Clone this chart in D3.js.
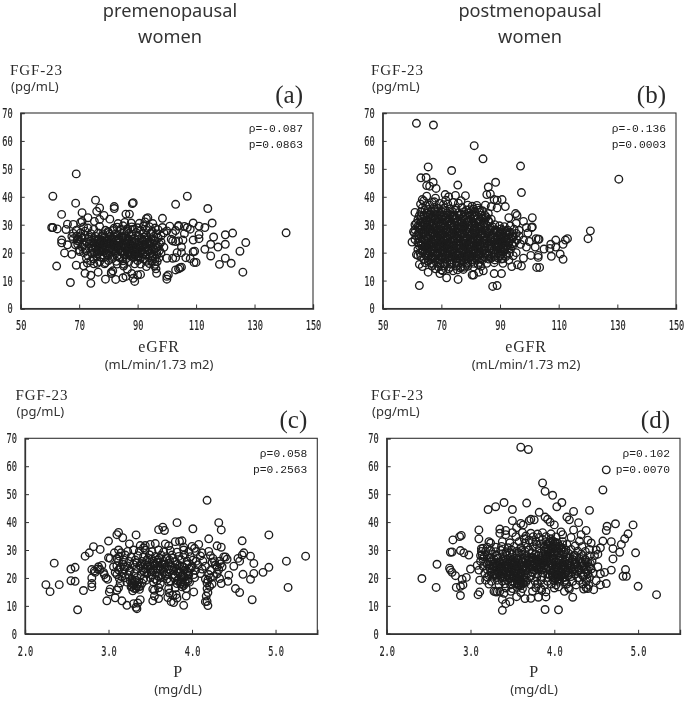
<!DOCTYPE html>
<html lang="en">
<head>
<meta charset="utf-8">
<title>FGF-23 scatter plots</title>
<script src="https://cdn.jsdelivr.net/npm/d3@7"></script>
<style>
html, body { margin: 0; padding: 0; background: white; }
svg { display: block; filter: blur(0.35px); }
.tick text { font-family: "DejaVu Sans Mono", monospace; font-size: 14px; fill: #222; stroke: #222; stroke-width: 0.2px; }
.tick line, .domain { stroke: #333; }
.dot { fill: none; stroke: #1c1c1c; stroke-width: 1.35; }
.head { font-family: "Noto Sans", sans-serif; font-size: 18.2px; fill: #333; text-anchor: middle; }
.serif { font-family: "Liberation Serif", serif; fill: #2a2a2a; }
.unit { font-family: "Noto Sans", sans-serif; font-size: 13px; fill: #333; }
.stat { font-family: "Liberation Mono", monospace; font-size: 11.3px; fill: #222; text-anchor: end; }
</style>
</head>
<body>
<div id="chart"></div>
<script>
// values, [x, FGF-23]
var pointsA = [
[69,48.2],[61,40.2],[68.8,37.7],[75.6,38.8],[107,40.2],[103,37.3],[88.5,37.9],[88.2,37.6],[82,36.5],[82,35.8],[114,35.8],[77,36],[76,34.8],[64,33.7],[71,34.3],[78.5,33.3],[86,33.8],[87.2,33.8],[93.5,32.5],[93,32.2],[98.5,32.3],[80.5,32],[73,32.5],[77,31.9],[75.2,31.2],[115.5,30.6],[109,30.6],[66,30.2],[68,30.1],[70.5,30.8],[71,31.2],[60.6,29],[61,29],[62.5,28.5],[65.5,28.3],[111,29.5],[113,29],[101,29.5],[104,29.7],[104,29.4],[106,29.4],[107,29],[108,28.4],[111,26.5],[111,25],[116,25.6],[120,26.4],[122.5,27],[127,23.6],[125,20.5],[120,23],[115,23],[117.5,22],[113,21.2],[115,18.8],[118,15.8],[120,18],[122,16.2],[126,13],[140.8,27.1],[110,16.5],[109.5,20.5],[109,20.3],[109,24.5],[109.3,16.5],[106.5,18.2],[108,17.9],[64,24.5],[64,23.5],[65,19.9],[66,22.8],[67.5,19.4],[69,15.5],[62.3,15.2],[71.5,15.3],[72,12.6],[74,11.9],[67,9.3],[74,9],[76.5,13],[79,10.5],[82.5,10.4],[85,11],[86,11.5],[88,12.5],[89,9.7],[90,12],[91,12.2],[88.5,10.8],[81,12.5],[81,13],[81.5,13.5],[86.5,14],[96.5,12.6],[100,10.5],[100,11.5],[100.5,12],[103,13.8],[104,14.2],[104.5,14.6],[105,14.8],[100,18],[102,18],[103,18.2],[103.5,20],[105,20],[102,24.2],[103,24],[104,24.2],[105.5,24.5],[106,26.8],[105,22],
[71.5,29.2],[73,28.8],[77,29.4],[83,29.1],[85,29.6],[88,29.2],[90,28.9],[92,29.5],[94,29.3],[96,28.8],[98.5,29],
[69,28],[72,27.7],[75,28.3],[79,28],[81.5,27.9],[84,28.2],[86.5,27.8],[88.5,28.4],[91,27.9],[93,28.1],[95,27.6],[97,28.2],[100,27.8],[103,27.9],
[68,26.9],[70.5,27.1],[74,26.8],[76.5,27],[80,27.2],[82.5,26.7],[85.2,27],[87,26.9],[89.5,27.2],[92,26.8],[94.5,27],[96.5,26.7],[99,27.1],[102,26.9],
[67.5,25.8],[69.2,26],[72,26.2],[75.5,25.9],[78,26.1],[80.7,25.8],[83,26.2],[84.5,26],[86,25.7],[88,26.1],[90.2,25.9],[93,26.2],[95.5,25.8],[98,26],
[68,25],[69.5,24.9],[71,25.2],[73.2,24.8],[75,25.1],[76.8,25],[78.8,25.3],[80,24.9],[81.3,25],[83.5,24.7],[85,25.2],[87,24.9],[89,25.1],[91.5,24.8],[93.2,25.1],[95,24.9],[97,25.2],[101.5,24.8],
[70,24],[72.5,23.8],[74,24.2],[76,24],[77.5,23.7],[79.5,24.1],[81,23.9],[82.5,24.2],[84,23.8],[86.3,24],[88,24.2],[90,23.7],[92,24.1],[94,23.9],[96,24.2],[98,23.8],
[69.5,23],[71.5,22.8],[73.5,23.2],[75.2,22.9],[77,23.1],[78.5,22.8],[80,23.2],[82,23],[83.5,22.7],[85.5,23.1],[87.5,22.9],[89,23.2],[90.5,22.8],[92.5,23],[94.3,23.2],[96.3,22.8],[97.5,23.1],
[71,22],[74,21.8],[75.8,22.2],[77.8,21.9],[79,22.1],[80.8,21.8],[83,22.1],[84.5,21.9],[86,22.2],[88.3,21.8],[89.6,22],[91,21.7],[93,22.1],[95,21.9],[97,22.2],[99,21.9],
[70,21],[72.3,20.8],[74.5,21.2],[76.5,20.9],[78,21.1],[80,20.8],[81.8,21.2],[83.5,21],[85,20.7],[87,21.1],[88.5,20.8],[90,21.2],[91.5,20.9],[93.5,21],[95.5,21.2],[97.5,20.8],
[71.5,20],[75,19.8],[77,20.2],[79,19.9],[81,20.1],[82.5,19.8],[84.5,20.2],[86.5,20],[88,19.7],[89.5,20.1],[91,19.9],[92.5,20.2],[94.5,19.8],[96.5,20.1],[98,19.9],
[73,19],[76,18.8],[78,19.2],[80,19],[83,18.8],[85.5,19.2],[87.5,18.9],[89,19.1],[90.5,18.8],[93,19.2],[95,18.9],[96.5,19.1],
[72.5,18],[75,17.8],[78.5,18.2],[81.3,17.9],[84,18.1],[86,17.8],[88.5,18.2],[91,18],[92,17.7],[94,18.1],[96,17.9],[97.3,18.2],
[74,17],[77,16.8],[80,17.2],[82.7,16.9],[85,17.1],[87,16.8],[90,17.2],[93,16.9],[95,17.1],[96.7,16.8],
[75,16],[76.2,16.2],[78.7,16],[79,16.4],[83,15.9],[85.3,15.8],[89,16],[91,15.9],[94,16.1],[96,15.8],[85.2,15.2],[93,15],[95.8,15.3],[96.3,14.2],
// second pass over the dense core
[76.3,24.6],[77.9,25.7],[79.2,23.4],[80.4,26.6],[81.7,22.6],[82.9,24.7],[84.2,20.6],[85.8,23.6],[86.9,19.4],[87.7,22.4],[88.9,20.3],[89.3,24.4],[90.2,18.4],[91.3,22.6],[92.2,25.6],[93.7,20.6],[94.7,23.5],[95.3,18.5],[96.2,21.6],[75.4,21.6],[76.9,22.5],[78.3,20.4],[79.6,19.3],[80.3,21.4],[81.4,18.6],[82.2,20.7],[83.2,23.5],[84.8,25.6],[85.7,21.5],[86.7,24.6],[87.3,20.5],[88.7,18.5],[89.8,21.3],[90.7,22.4],[91.8,19.5],[74.6,23.5],[73.3,25.6],[72.2,21.5],[77.2,18.4],[78.1,26.7],[79.9,27.6],[81.1,24.5],[83.8,18.4],[85.4,27.6],[86.6,28.6],[88.2,26.5],[87.9,19.6],[89.1,23.7],[90.9,20.4],[92.8,24.5],[94,21.5],[95.7,24.4],[81.9,28.7],[83.3,30.4],[85.6,30.8],[87.8,30.6],[90.6,30.5],[92.5,31],[95.2,30.4],[76.2,19.5],[74.3,19.7],[70.7,25.7],[69.3,24.3],[68.7,22.8],[70.2,20.4],[72.8,16.3],
// third pass
[88.4,21.3],[87.6,20.2],[89.7,20.6],[90.3,21.7],[86.2,20.9],[85.1,20.3],[88.1,22.7],[89.4,19.2],[91.2,20.5],[84.3,22.6],[83.6,21.5],[82.4,22.3],[81.2,21.6],[80.1,23.6],[79.1,24.7],[78.2,23.6],[77.4,24.5],[76.4,23.4],[75.3,24.5],[85.9,24.4],[87.1,23.5],[91.7,24.3],[93.3,23.6],[94.4,22.5],[92.4,21.4],[83.4,25.1],[82.1,25.6],[79.4,21.7],[77.6,21.4],[76.1,20.5]
];
var pointsB = [
[61.5,66.3],[67.3,65.7],[81.2,58.3],[84.2,53.6],[65.5,50.7],[73.5,49.4],[97,51],[130.5,46.3],[63,46.8],[64.8,46.9],[67.2,45.2],[65,44],[66,43.8],[68.2,43],[75.6,44.2],[88.5,45.2],[86,43.5],[97.3,41.5],[85.5,40.8],[86.7,41],[71.3,40.8],[72.5,40],[74.8,40.5],[78.2,40.4],[63.5,39],[64,38.5],[65,40.2],[68,39.5],[71.5,38.8],[88,39],[89,38.8],[90.7,39],[91.8,36.5],[66,37],[75.8,37.7],[79,37],[85,37],[87,36.5],[89,36],[84,35],[86,34],[61,34.4],[87,32],[93,32.5],[95.3,34],[95.8,33.3],[101,32.5],[98,31.2],[95.5,30.5],[100.8,29],[101,29.2],[99,29],[120.8,27.8],[120,25],[113,25],[112.3,24.5],[111.5,23],[109,24.5],[109,22],[107.3,23],[107,21.5],[107.5,18.7],[110.5,19.5],[111.5,17.6],[102.3,25],[103,24.8],[103.3,24.8],[102,22],[105,21.3],[103,19],[103,18.3],[102.5,14.7],[103.5,14.7],[98,18],[97.3,15.2],[100.5,19],[62.5,8.2],[87.5,7.9],[89,8.2],[75.7,10.4],[71.8,11],[80.5,12],[81,12],[82.8,13],[84.3,13.5],[88,12.5],[90.5,12.5],[65.5,13],[62.5,15.8],[60,23.8],[60.5,27.5],[61,30],[61.5,19.3],[62,19],[94,15],[96,15.7],[69.5,12.5],[70.5,13.5],[74,13.5],[76.5,14.5],[78,14.8],[99,22],[100,24],[98,24.5],[97,23],[99.5,27],[96.5,28],[94.5,25.5],
[63.5,36],[65.5,35.5],[67.5,36.2],[69,35.8],[71,36],[73,35.7],[75,35.9],[77,36.1],[79.5,35.4],[81,35.6],[83,35.2],
[63,34.5],[65,34.2],[66.5,34.8],[68.3,34.4],[70,34.6],[72,34.2],[73.8,34.7],[75.8,34.3],[77.7,34.6],[79.5,34.2],[81.2,34.7],[83,34.4],[84.8,33.5],
[62.5,33.2],[64,33],[65.7,33.4],[67.3,33],[69,33.3],[70.5,32.9],[72.3,33.4],[74,33.1],[76,33.3],[78,32.9],[79.7,33.4],[81.7,33],[83.5,33.3],[85.3,32.8],
[62,31.8],[63.5,32],[65,31.7],[66.5,32.2],[68,31.9],[69.7,32.1],[71.2,31.7],[73,32.2],[74.7,31.8],[76.5,32],[78.3,31.7],[80,32.1],[82,31.8],[84,32.2],[86,31.5],
[61.5,30.5],[63,30.8],[64.5,30.6],[66,31],[67.5,30.6],[69,30.9],[70.5,30.5],[72,30.9],[73.5,30.6],[75.3,31],[77,30.6],[78.7,30.9],[80.5,30.5],[82.5,30.9],[84.5,30.6],[86.3,30.9],[88.2,30],
[62,29.5],[63.5,29.3],[65,29.7],[66.7,29.4],[68.2,29.7],[69.8,29.3],[71.3,29.6],[73,29.4],[74.5,29.7],[76.3,29.3],[78,29.6],[79.8,29.3],[81.5,29.7],[83.5,29.4],[85.5,29.7],[87.5,29.2],[89.8,29.6],[91.5,29.3],[93.5,29.6],
[61,28.2],[62.8,28.4],[64.3,28.1],[66,28.5],[67.5,28.2],[69,28.5],[70.7,28.1],[72.3,28.5],[74,28.2],[75.8,28.4],[77.4,28.1],[79.2,28.5],[81,28.2],[82.8,28.4],[84.7,28.1],[86.5,28.4],[88.5,28.1],[90.3,28.5],[92.5,28.1],[94.8,28.4],
[60.8,27],[62.3,27.3],[64,27],[65.5,27.4],[67,27.1],[68.7,27.3],[70.2,27],[72,27.4],[73.7,27.1],[75.3,27.3],[77,27],[78.7,27.4],[80.5,27.1],[82.3,27.3],[84,27],[86,27.3],[88,27],[90,27.4],[91.8,27.1],[93.5,27.3],[95.5,26.9],
[61.5,26],[63.2,25.8],[64.8,26.2],[66.3,25.9],[68,26.2],[69.5,25.8],[71.3,26.1],[72.8,25.9],[74.5,26.2],[76.2,25.8],[78,26.1],[79.7,25.8],[81.5,26.2],[83.3,25.9],[85,26.1],[87,25.8],[89,26.1],[90.8,25.9],[92.7,26.2],[94.5,25.8],[96.5,26],
[61,24.7],[62.5,25],[64,24.7],[65.6,25],[67.3,24.7],[69,25],[70.6,24.6],[72.2,25],[73.9,24.7],[75.6,24.9],[77.3,24.6],[79,25],[80.8,24.7],[82.5,24.9],[84.5,24.6],[86.5,24.9],[88.3,24.7],[90,25],[91.8,24.6],[93.8,24.9],[95.8,24.6],
[62,23.5],[63.6,23.8],[65.2,23.5],[66.8,23.8],[68.4,23.5],[70,23.8],[71.7,23.4],[73.3,23.8],[75,23.5],[76.7,23.7],[78.4,23.4],[80.2,23.8],[82,23.5],[83.7,23.7],[85.5,23.4],[87.5,23.7],[89.2,23.5],[91,23.8],[93,23.4],[95,23.7],
[62.5,22.4],[64.2,22.2],[65.8,22.6],[67.5,22.2],[69.2,22.5],[70.8,22.2],[72.5,22.6],[74.2,22.3],[76,22.5],[77.7,22.2],[79.4,22.6],[81.2,22.3],[83,22.5],[84.8,22.2],[86.8,22.5],[88.6,22.2],[90.5,22.6],[92.3,22.3],[94.3,22.5],
[62,21.2],[63.8,21],[65.4,21.4],[67,21],[68.7,21.3],[70.4,21],[72,21.4],[73.8,21.1],[75.4,21.3],[77.2,21],[79,21.4],[80.8,21.1],[82.6,21.3],[84.4,21],[86.2,21.3],[88,21],[89.8,21.4],[91.6,21],[93.6,21.3],
[62.7,20],[64.5,19.8],[66.2,20.2],[67.9,19.8],[69.6,20.1],[71.3,19.8],[73,20.2],[74.8,19.9],[76.5,20.1],[78.3,19.8],[80,20.2],[81.8,19.9],[83.7,20.1],[85.5,19.8],[87.5,20],[89.3,19.8],[91.2,20.2],[93.2,19.8],[95.5,20],
[63,18.7],[64.8,18.9],[66.5,18.6],[68.2,18.9],[70,18.6],[71.7,19],[73.5,18.7],[75.2,18.9],[77,18.6],[78.8,19],[80.5,18.7],[82.3,18.9],[84.2,18.6],[86,18.9],[88,18.6],[90,18.9],[92,18.6],[94.5,18.9],
[64,17.6],[66,17.4],[67.8,17.7],[69.5,17.4],[71.2,17.7],[73,17.4],[74.8,17.7],[76.5,17.4],[78.3,17.7],[80.2,17.4],[82,17.7],[84,17.4],[86.2,17.7],[88.2,17.4],[90.5,17.7],[93,17.3],
[64.5,16.4],[66.5,16.2],[68.3,16.5],[70,16.2],[71.8,16.5],[73.6,16.2],[75.3,16.5],[77.2,16.2],[79,16.5],[81,16.2],[83,16.5],[85.5,16.2],[88,16.4],[91,16.2],
[63.5,15],[66.8,15.2],[69,14.9],[71,15.2],[73,14.8],[75,15.2],[76.8,15],[79,15.1],[81,14.9],[83.5,15.1],
[68,14.2],[70,13.8],[72.5,14.2],[75.5,13.8],[77.5,14],
// second pass over the dense core
[64.4,35.3],[66.2,33.7],[67.9,35],[69.6,34],[71.4,35.1],[72.9,33.6],[74.6,35.2],[76.7,33.8],[78.6,35.3],[80.4,33.7],[82.3,35.9],
[63.1,32.6],[64.9,31.2],[66.9,32.6],[68.6,31],[70.1,32.5],[71.9,31],[73.6,32.7],[75.5,31.2],[77.3,32.6],[79.1,31.3],[81,32.6],[82.8,31.3],[85,32.2],
[62.6,30],[64.1,29.9],[66.1,30.1],[67.8,28.9],[69.3,30.1],[71.1,28.9],[72.7,30.2],[74.2,29],[76,30.1],[77.7,29],[79.4,30],[81.3,28.9],[83,30.1],[84.9,29],[86.8,28.9],[89,27.7],
[62.4,28.9],[63.9,27.7],[65.2,28.8],[66.6,27.6],[68.3,27.8],[69.9,26.6],[71.7,27.9],[73.3,26.6],[74.9,27.7],[76.6,26.5],[78.3,27.8],[80,26.6],[81.7,27.7],[83.6,26.6],[85.3,27.8],[87.2,26.6],[90.9,26.6],[92.9,25.2],
[62,26.4],[63.7,26.6],[65.3,25.3],[67,26.7],[68.6,25.4],[70.3,26.5],[72,25.3],[73.6,26.6],[75.2,25.4],[77,26.5],[78.7,25.3],[80.4,26.5],[82.1,25.4],[83.9,26.5],[85.7,25.3],[87.8,25.3],[89.6,24.3],[91.4,25.4],[93.2,24.2],
[62.9,24.2],[64.5,24.3],[66.1,23],[67.8,24.2],[69.4,23],[71.1,24.2],[72.7,23],[74.4,24.2],[76,23],[77.8,24.2],[79.5,23],[81.3,24.2],[83.1,23],[84.9,24.1],[86.8,23],[88.7,23.1],[90.4,22.9],[92.1,23.9],[94.1,23.1],
[63.1,22.8],[64.9,21.7],[66.4,21.9],[68.1,21.8],[69.9,22],[71.4,21.8],[73.2,21.9],[74.9,21.7],[76.7,21.8],[78.4,21],[80.1,22],[81.9,21.8],[83.7,22],[85.4,21.7],[87.2,21.8],[89,22.9],[90.9,21.6],[92.8,21.7],
[63.4,20.6],[65.1,20.7],[66.8,20.6],[68.5,19.4],[70.2,20.7],[72,19.5],[73.7,20.6],[75.4,19.4],[77.1,20.6],[79,19.4],[80.7,20.6],[82.5,19.4],[84.2,20.6],[86.1,19.5],[88.4,19.5],[90.3,19.5],[92.3,19.4],
[65.3,18.1],[67.2,18.1],[69,17.9],[70.7,18.2],[72.4,18.1],[74.2,18.2],[76,18],[77.7,18.2],[79.5,18.1],[81.3,18.2],[83,18],[85,18.2],[87,18],[89.2,18.1],[91,17.9],
[65.5,17],[67.3,15.8],[69.4,15.8],[71.2,15.9],[73.1,15.9],[75,16.9],[76.9,16.9],[78.6,15.8],[80.4,16.8],[82.5,15.8],
[67.6,38.2],[69.4,37.6],[70.7,37.2],[72.2,37.4],[74,38],[76.7,38.6],[64.7,36.8],[66.9,38],[62.9,37.4],[80.5,36.6],[82.1,36.9],
// third pass
[64.2,33.5],[65.3,32.8],[66.1,31.5],[67.1,30.2],[68,33.6],[68.9,32.4],[70,29.8],[70.9,33.5],[71.8,32.5],[72.6,31.3],[73.4,29.9],[74.3,33.4],[75.1,32.6],[75.9,28.9],[76.8,31.4],[77.6,30],[78.5,33.6],[79.3,31.5],[80.2,29.9],[81.4,33.4],[82.2,29.2],[83.2,31.9],
[64.9,28.8],[65.8,27.9],[66.5,26.6],[67.3,25.6],[68.2,24.4],[69,26.9],[69.7,28],[70.4,25.3],[71.3,26.9],[72.1,24.3],[72.9,27.6],[73.7,25.3],[74.5,24],[75.4,26.8],[76.1,25.1],[77.1,28.8],[77.9,24.5],[78.9,26.7],[79.7,24.3],[80.6,25.2],[81.6,26.8],[82.4,24.2],[83.4,27.8],[84.1,25.4],
[64.6,22.9],[65.6,21.9],[66.7,23.2],[67.6,20.8],[68.6,22.9],[69.4,21.7],[70.5,23],[71.6,22.9],[72.4,21.8],[73.4,22.8],[74.5,21.2],[75.7,22.9],[76.3,21.6],[77.4,22.8],[78.1,23],[78.9,21.7],[79.9,22.9],[80.9,22.8],[81.6,20.8],[82.7,21.9],[83.5,22.9],[84.6,23.1],
[65.9,19.2],[67,18.4],[68.7,20.2],[70.4,19.2],[72.3,18.6],[73.9,19.3],[75.9,19.2],[77.6,19.3],[79.3,18.5],[81,19.3],[83.1,19.3],[84.9,19.4],
[88.3,23.3],[89.5,22.2],[90.2,24.4],[91.1,23.2],[92,22.4],[90.1,20.9],[88.9,21.6],[91.4,22],[89.9,26.7],[88.2,27.9],[92,27.6],[93.4,26.8],[90.8,27.9],[86.9,21.7],[87.6,25.2]
];
var pointsC = [
[4.18,47.8],[3.82,39.8],[4.32,39.8],[3.65,38.2],[3.6,37.3],[3.67,37],[4.01,37.6],[4.35,37.2],[3.12,36.3],[3.1,35.5],[3.17,34.4],[3.33,35.4],[3,33.2],[4.2,34],[4.6,33.3],[4.92,35.4],[3.85,33.1],[3.8,33],[2.82,31.2],[2.9,30.2],[2.77,29],[2.72,27.8],[2.35,25.3],[2.6,23.8],[2.55,23.2],[2.25,17.6],[2.3,15.1],[2.41,17.6],[2.55,19],[2.6,18.8],[2.7,15.5],[2.63,8.6],[2.98,11.8],[3.08,12.9],[3.16,11.8],[3.22,10.2],[3.3,10.8],[3.33,9.5],[3.34,9],[3.35,11],[3.38,12.2],[3.53,11.8],[3.6,12.6],[3.75,11.5],[3.78,11.2],[3.82,12.8],[3.9,10.2],[3.93,13.5],[4.02,15],[4.16,11.5],[4.18,11.6],[4.19,10.1],[4.72,12.2],[4.57,14.8],[4.52,16.2],[4.7,19.5],[4.74,21.6],[4.74,25.2],[4.7,27.8],[4.62,29],[4.6,28.2],[4.55,27],[4.57,26],[4.5,24.2],[4.61,21.3],[4.85,22],[4.92,23.8],[5.13,26],[5.15,16.6],[5.36,27.8],[4.44,21],[4.43,18.8],[4.35,18],[4.42,26.7],[4.38,27.5],[4.4,27.5],[4.3,31.5],[4.35,31],[4.05,29.5],[4.08,32],[4.2,29.5],[4.25,27],
[2.8,23],[2.83,22.5],[2.8,20],[2.8,18],[2.8,16.8],[2.88,24],[2.92,24.5],[2.9,23],[2.94,22],[2.97,20],[2.99,19.5],[3,27.2],[3.02,27],[3.02,16],[3.01,15],[3.1,27],[3.07,29],[3.12,30],[2.84,22],[2.87,23.2],[2.95,21.2],[3.06,24],[3.08,22],
[3.25,32.2],[3.38,31.6],[3.42,30.8],[3.5,32],[3.56,32.3],[3.68,32.2],[3.72,31.5],[3.88,33.3],[3.9,31],[4,31.3],[4.03,30.6],[3.44,31.6],
[3.15,29],[3.23,29.5],[3.3,30],[3.37,29.6],[3.44,30],[3.52,29.4],[3.6,30],[3.66,29.3],[3.74,29.8],[3.82,29.2],[3.9,30],[3.96,29.4],[4.12,29],
[3.13,27.8],[3.2,28.2],[3.27,27.6],[3.35,28],[3.42,27.6],[3.49,28.3],[3.56,27.7],[3.63,28.2],[3.69,27.6],[3.76,28.2],[3.84,27.7],[3.91,28.2],[3.98,27.6],[4.1,27.9],[4.22,28],
[3.12,26],[3.18,26.5],[3.25,25.9],[3.32,26.4],[3.4,25.9],[3.46,26.5],[3.53,26],[3.59,26.5],[3.66,25.9],[3.73,26.4],[3.8,25.9],[3.87,26.5],[3.94,26],[4.01,26.4],[4.13,26],[4.27,25.8],[4.33,26],
[3.1,24.4],[3.17,24.9],[3.23,24.3],[3.3,24.8],[3.38,24.2],[3.44,24.8],[3.5,24.3],[3.56,24.9],[3.62,24.2],[3.68,24.8],[3.75,24.3],[3.82,24.8],[3.88,24.2],[3.94,24.8],[4,24.3],[4.07,24.7],[4.16,24.2],[4.28,24.6],[4.36,24],
[3.12,22.9],[3.19,23.2],[3.26,22.7],[3.33,23.2],[3.41,22.7],[3.47,23.3],[3.53,22.8],[3.59,23.2],[3.65,22.7],[3.72,23.2],[3.78,22.7],[3.85,23.3],[3.9,22.8],[3.97,23.2],[4.04,22.7],[4.12,23.2],[4.22,22.7],[4.32,23],
[3.1,21.2],[3.17,21.6],[3.24,21.1],[3.31,21.6],[3.39,21.1],[3.46,21.6],[3.52,21.1],[3.58,21.7],[3.64,21.1],[3.7,21.6],[3.77,21.2],[3.83,21.7],[3.89,21.1],[3.95,21.6],[4.02,21.2],[4.1,21.6],[4.2,21.2],[4.3,21.5],
[3.13,19.8],[3.2,20.1],[3.28,19.6],[3.34,20.1],[3.42,19.6],[3.5,20.1],[3.56,19.6],[3.63,20.1],[3.7,19.6],[3.78,20.1],[3.84,19.6],[3.9,20.2],[3.95,19.7],[4.03,20.1],[4.16,19.6],[4.22,20],[4.33,19.8],
[3.14,18.2],[3.22,18.5],[3.28,18],[3.32,18.6],[3.4,18.1],[3.54,18.5],[3.62,18],[3.72,18.5],[3.82,18],[3.87,18.6],[3.92,18.1],[3.97,18.5],[4.18,18.2],[4.24,17.8],
[3.12,16.5],[3.27,16.8],[3.31,16.2],[3.36,16.8],[3.38,17],[3.53,16],[3.6,16.5],[3.72,16.2],[3.8,16.5],[3.88,16.8],[3.93,16.2],[4.18,16.2],
[3.1,15.6],[3.29,15.4],[3.55,15.6],[3.62,15],[3.73,14.6],[3.77,13.8],[3.71,13],[3.81,14],[4.19,14.8],[4.17,13.5],[3.55,13.5],
// second pass over the dense core
[3.48,27],[3.54,25.2],[3.61,27],[3.57,23.6],[3.64,24.9],[3.51,22.2],[3.6,20.6],[3.47,24.4],[3.43,22],[3.4,25.1],[3.66,22],[3.72,25.3],[3.79,23.7],[3.86,21.9],[3.88,19.4],[3.91,20.4],[3.94,22.2],[3.85,24.5],[3.83,19],[3.89,17.7],[3.95,18.9],[3.99,23.5],[4.05,26],[3.3,17.5],[3.33,16.3],[3.35,18],[3.28,16.9],[3.37,15.9],[3.32,19.2],[3.25,22.4],[3.2,24],[3.16,20.4],[3.14,23.8],[3.7,27],[3.77,27.1],[3.68,20.8],[3.74,18.9],[3.58,19],[3.45,19.2],[4.21,17],[4.19,19.2],[4.26,20.6],[4.3,24],[4.24,25.6],[4.34,25],
// third pass
[3.87,20.5],[3.84,22.6],[3.9,23.9],[3.92,19],[3.86,18],[3.9,17.3],[3.8,20.7],[3.96,21],[3.55,24.3],[3.58,25.6],[3.52,26.7],[3.62,23.2],[3.5,23.1],[3.44,23.3],[3.38,24.5],[3.34,25.4],[3.68,23.8],[3.74,23],[3.34,17.2],[3.29,18.4],[3.26,19]
];
var pointsD = [
[3.6,66.8],[3.69,66],[4.62,58.7],[3.86,54],[3.89,51],[3.98,49.6],[4.58,51.5],[4.09,47],[4.03,45.5],[3.67,46.8],[3.4,47],[3.3,45.5],[3.21,44.5],[3.5,44.5],[3.82,43.5],[4.23,43.8],[4.42,44.2],[3.89,41.8],[3.92,41],[4.15,41.8],[3.72,41],[3.7,40.5],[3.76,40.8],[3.95,40],[4.18,40.8],[3.5,40.5],[3.6,39.5],[3.63,39],[4,39],[4.29,39.8],[4.63,38.5],[4.73,39.4],[4.62,37],[4.94,39],[4.23,37.2],[4.38,37],[4.32,35.5],[4.88,35.8],[4.84,34],[3.1,37.2],[3.35,37.5],[3.42,37],[3.55,38],[2.89,35.2],[2.87,34.8],[2.79,33.6],[3.1,34],[3.22,33],[3.24,32.5],[4.58,33.2],[4.68,33],[4.8,32],[4.4,33.5],[4.44,32.5],[4.7,30.5],[4.78,29.2],[4.97,29],[4.7,26.8],[4.68,22.8],[4.6,22],[4.55,21.5],[4.85,23],[4.82,20.6],[4.86,20.6],[5,17],[5.22,14],[4.62,18],[4.55,17.5],[4.5,19],[4.47,15.8],[4.22,13.1],[4.05,8.6],[3.89,8.7],[3.38,8.4],[3.42,10.8],[3.47,11.5],[3.55,13.3],[3.65,12.6],[3.72,12.7],[3.81,13.1],[3.9,13.2],[3.9,15],[2.42,19.8],[2.6,24.9],[2.59,16.6],[2.88,13.7],[2.83,16.6],[2.88,17],[2.91,17.5],[2.9,19.5],[2.95,20.2],[2.78,22],[2.75,23.5],[2.76,22.8],[2.82,20.8],[2.76,29.2],[2.78,29.3],[2.88,29.8],[2.92,29],[2.98,28.2],[3,23.2],[3.08,24.5],[3.09,14],[3.11,15],[3.11,19.2],[3.1,22.8],[3.12,26],[3.12,28],[3.13,29.5],[3.13,30.5],[3.38,12.3],[3.3,15],[3.35,15.2],[3.6,14.8],[4.12,15.2],[4.18,16],[4.35,16],[4.4,16.2],[4.52,24],[4.55,30.8],[4.52,28.5],[4.48,28],[4.45,26],[4.5,30],[4.42,30.2],
[3.62,36.2],[3.72,36],[3.8,35.7],[3.86,36.2],[3.96,35.8],[4.08,36.5],[4.1,35.5],[3.5,36.2],[3.42,35.5],[3.35,36],[3.66,35],[3.75,34.8],[3.9,34.8],[4.02,34.7],[4.2,34.5],[4.3,33.2],
[3.3,31],[3.37,31.3],[3.45,30.8],[3.52,31.3],[3.6,30.8],[3.65,32.5],[3.7,33.5],[3.78,33],[3.84,32.2],[3.9,33],[3.94,32.5],[3.98,33.3],[4.04,32.5],[4.1,33],[4.15,32],[4.25,31.5],[4.33,31.2],[3.2,31],[3.15,30.6],
[3.18,29.5],[3.24,29.8],[3.3,29.4],[3.36,29.9],[3.43,29.4],[3.49,30],[3.55,29.5],[3.61,29.8],[3.68,31],[3.75,31.2],[3.82,30.5],[3.88,31],[3.93,30.2],[3.98,31],[4.03,30.3],[4.09,30.8],[4.14,30],[4.2,30.2],[4.28,29.6],[4.37,29.5],
[3.14,28.3],[3.2,28],[3.26,28.4],[3.32,28],[3.38,28.5],[3.44,28],[3.5,28.4],[3.55,28],[3.61,28.5],[3.67,28],[3.73,29],[3.78,28.4],[3.84,29],[3.9,28.5],[3.95,29],[4,28.3],[4.05,29],[4.11,28.4],[4.17,28.8],[4.24,28.2],[4.32,28.5],[4.42,28],
[3.15,26.8],[3.22,27],[3.28,26.7],[3.33,27.1],[3.39,26.6],[3.45,27],[3.5,26.6],[3.55,27.1],[3.6,26.7],[3.65,27],[3.7,26.6],[3.75,27.1],[3.8,26.7],[3.85,27],[3.9,26.7],[3.95,27.2],[4,26.6],[4.05,27],[4.1,26.6],[4.16,27],[4.22,26.6],[4.3,27],[4.37,26.6],
[3.18,25.5],[3.24,25.8],[3.29,25.4],[3.34,25.7],[3.39,25.3],[3.44,25.7],[3.48,25.4],[3.53,25.8],[3.58,25.3],[3.63,25.7],[3.68,25.4],[3.72,25.8],[3.77,25.3],[3.82,25.7],[3.87,25.4],[3.92,25.7],[3.97,25.3],[4.02,25.7],[4.07,25.3],[4.12,25.6],[4.18,25.3],[4.25,25.7],[4.33,25.2],[4.4,25.5],
[3.15,24.2],[3.22,24.5],[3.27,24.1],[3.32,24.5],[3.36,24.1],[3.41,24.4],[3.46,24],[3.5,24.5],[3.55,24.1],[3.6,24.4],[3.64,24],[3.69,24.5],[3.74,24.1],[3.79,24.4],[3.84,24],[3.88,24.5],[3.93,24.1],[3.98,24.4],[4.03,24],[4.08,24.5],[4.13,24],[4.2,24.4],[4.27,24],[4.35,24.3],[4.42,24],
[3.2,23],[3.26,23.2],[3.31,22.8],[3.35,23.2],[3.4,22.8],[3.44,23.2],[3.49,22.8],[3.53,23.2],[3.58,22.8],[3.62,23.2],[3.67,22.8],[3.71,23.2],[3.76,22.8],[3.81,23.2],[3.85,22.8],[3.9,23.2],[3.95,22.8],[4,23.2],[4.05,22.8],[4.1,23.2],[4.16,22.8],[4.23,23.2],[4.3,22.8],[4.38,23.1],
[3.17,21.7],[3.24,21.9],[3.29,21.5],[3.33,21.9],[3.38,21.5],[3.42,21.9],[3.47,21.5],[3.52,21.9],[3.57,21.5],[3.62,21.9],[3.68,21.5],[3.74,21.9],[3.8,21.5],[3.86,21.9],[3.92,21.5],[3.97,21.9],[4.02,21.5],[4.07,21.9],[4.12,21.5],[4.18,21.9],[4.25,21.5],[4.32,21.9],[4.4,21.5],[4.46,21.7],
[3.2,20.3],[3.27,20.6],[3.31,20.2],[3.36,20.6],[3.41,20.2],[3.47,20.6],[3.52,20.1],[3.58,20.6],[3.64,20.2],[3.72,20.6],[3.79,20.2],[3.85,20.5],[3.93,20.2],[3.98,20.6],[4.03,20.2],[4.08,20.6],[4.13,20.2],[4.2,20.5],[4.28,20.1],[4.35,20.5],[4.42,20.2],
[3.18,19.2],[3.25,18.8],[3.32,19.2],[3.38,18.9],[3.44,19.2],[3.5,18.8],[3.55,19.2],[3.6,18.8],[3.67,19.2],[3.77,18.8],[3.84,19.2],[3.92,18.8],[3.99,19.2],[4.06,18.8],[4.13,19.2],[4.22,18.8],[4.3,19.1],[4.38,18.7],
[3.22,17.8],[3.34,17.6],[3.41,17.9],[3.48,17.5],[3.53,18],[3.58,17.6],[3.63,18],[3.72,17.6],[3.8,17.9],[3.88,17.5],[3.96,17.8],[4.02,17.5],[4.15,17.8],[4.26,17.5],[4.34,17.8],[4.41,17.4],
[3.42,16.4],[3.5,16.2],[3.56,16.6],[3.62,16.2],[3.78,16.5],[3.84,16.2],[4,16.4],[4.05,16.8],[4.17,16.5],[4.38,16.5],[3.28,15.2],[3.32,15],[3.48,15.2],[3.74,15.2],[3.85,15.6],[3.4,14.5],
// second pass over the dense core
[3.31,24.9],[3.36,23.7],[3.33,22.4],[3.29,21],[3.38,20.1],[3.35,21.2],[3.4,23.5],[3.43,21],[3.46,22.4],[3.45,25],[3.41,26.2],[3.52,24.9],[3.49,23.6],[3.55,22.3],[3.51,20.9],[3.59,24.7],[3.57,26.3],[3.56,20.8],[3.59,19.6],[3.62,18.3],[3.56,18.1],[3.6,17.2],[3.65,19.9],[3.66,23.4],[3.71,24.8],[3.69,26.2],[3.74,27.5],[3.78,26.3],[3.76,24.7],[3.82,24.8],[3.73,22.1],[3.79,23.5],[3.84,25.2],[3.88,26.2],[3.85,27.8],[3.92,28],[3.97,27.8],[3.93,29.6],[3.88,29.5],[3.99,30.3],[3.95,31.6],[3.91,32],[4.02,31.5],[4.06,31.4],[4.01,32.8],[3.96,34],[4.03,29.6],[4.07,28],[4.12,29.2],[4.1,31.9],[4.14,27.6],[4.02,24.7],[4.05,23.5],[4.08,22.3],[4.03,21],[4.09,20.9],[4.14,22.3],[4.11,24.7],[3.99,22.4],[3.95,20.9],[4.01,19.8],[4.06,19.7],[4.12,18.6],[4.17,23.6],[4.21,22.2],[4.16,20.8],[4.24,24.8],[4.28,22.3],[4.31,25.8],[4.36,23],[4.34,20.8],[4.39,19.5],[4.44,23.2],[4.27,27.6],[4.34,28],[3.27,25.1],[3.23,23.6],[3.2,25],[3.25,22],[3.22,20.9],[3.16,27.6],[3.24,27.2],[3.31,28.1],[3.42,29],[3.47,29],[3.58,29],[3.65,29.5],[3.7,30],[3.79,32],[3.86,33.8],[3.74,33],[3.64,34],[3.58,33],[3.47,32.6],[3.38,33],[3.54,34.8],[3.82,34.5],
// third pass
[3.3,23.6],[3.34,24.2],[3.37,22.3],[3.32,21],[3.36,25.4],[3.39,21.4],[3.42,24.3],[3.47,25.9],[3.44,23.9],[3.46,21.2],[3.49,25.2],[3.51,23.8],[3.54,25.4],[3.56,23.4],[3.53,22],[3.59,21.3],[3.61,25.6],[3.63,24.2],[3.66,26.4],[3.68,25],[3.7,23.6],[3.72,27],[3.75,26.2],[3.73,24.3],[3.77,25],[3.8,26.1],[3.79,24.6],[3.83,26.4],[3.86,25],[3.81,28],[3.83,23.6],[3.87,23.7],[3.91,27.2],[3.94,26.2],[3.89,27.6],[3.96,28.5],[3.92,30.7],[3.97,29.7],[3.95,32.9],[3.99,32.2],[4.01,29],[4.05,30.8],[4.08,29.8],[4.06,26.2],[4.04,25.3],[4.08,24.3],[4.1,22.8],[4.06,21.2],[4.01,23.7],[3.98,21],[4.04,20.6],[4.1,20],[3.93,23.7],[3.96,24.6],[4.13,26.2],[4.15,25],[4.18,27.2],[4.2,23.5],[3.58,19.3],[3.54,19.8],[3.62,19.7],[3.6,18],[3.57,17.4],[3.66,18.5],[3.5,20.5],[3.47,19.8],[4.21,26],[4.23,27.6],[4.26,25],[4.29,23.6],[4.33,24.2],[4.36,24.9],[4.38,25.8],[4.4,22.6],[4.43,25.2]
];

var xTicksEgfr = [50, 70, 90, 110, 130, 150];
var xTicksP = [2, 3, 4, 5];
var yTicks = [0, 10, 20, 30, 40, 50, 60, 70];

var panels = [
  {points: pointsA, letter: "(a)", rho: "\u03C1=-0.087", p: "p=0.0863", kind: "egfr", left: 20.7, right: 313, top: 113, labelX: 10, midX: 159},
  {points: pointsB, letter: "(b)", rho: "\u03C1=-0.136", p: "p=0.0003", kind: "egfr", left: 382.7, right: 676, top: 113, labelX: 371, midX: 526},
  {points: pointsC, letter: "(c)", rho: "\u03C1=0.058", p: "p=0.2563", kind: "p", left: 25, right: 317.3, top: 438.3, labelX: 15.5, midX: 178},
  {points: pointsD, letter: "(d)", rho: "\u03C1=0.102", p: "p=0.0070", kind: "p", left: 386.7, right: 680, top: 438.3, labelX: 371, midX: 534}
];
var plotH = 195.5;

var svg = d3.select("#chart").append("svg").attr("width", 685).attr("height", 702);

svg.append("text").attr("class", "head").attr("x", 170).attr("y", 16.5).text("premenopausal");
svg.append("text").attr("class", "head").attr("x", 170).attr("y", 42.7).text("women");
svg.append("text").attr("class", "head").attr("x", 530).attr("y", 16.5).text("postmenopausal");
svg.append("text").attr("class", "head").attr("x", 530).attr("y", 42.7).text("women");

panels.forEach(function(d) {
  var isEgfr = d.kind == "egfr";
  var bottom = d.top + plotH;
  var x = d3.scaleLinear().domain(isEgfr ? [50, 150] : [2, 5.5]).range([d.left, d.right]);
  var y = d3.scaleLinear().domain([0, 70]).range([bottom, d.top]);

  var g = svg.append("g");

  g.append("rect").attr("x", d.left).attr("y", d.top)
    .attr("width", d.right - d.left).attr("height", plotH)
    .attr("fill", "none").attr("stroke", "#333").attr("stroke-width", 1.1);

  var xAxis = d3.axisBottom(x).tickSize(-4).tickPadding(12)
    .tickValues(isEgfr ? xTicksEgfr : xTicksP)
    .tickFormat(isEgfr ? d3.format("d") : d3.format(".1f"));
  var yAxis = d3.axisLeft(y).tickSize(-4).tickPadding(8).tickValues(yTicks);

  g.append("g").attr("transform", "translate(0," + bottom + ")").call(xAxis);
  g.append("g").attr("transform", "translate(" + d.left + ",0)").call(yAxis);
  g.selectAll(".domain").attr("stroke-width", 1.3);

  // tick labels are tall and narrow in the figure, so squeeze them
  g.selectAll(".tick text")
    .attr("textLength", function() { return this.textContent.length * 5.2; })
    .attr("lengthAdjust", "spacingAndGlyphs");

  g.selectAll("circle").data(d.points).enter().append("circle")
    .attr("class", "dot")
    .attr("cx", function(v) { return x(v[0]); })
    .attr("cy", function(v) { return y(v[1]); })
    .attr("r", 3.8);

  g.append("text").attr("class", "serif").attr("x", d.labelX).attr("y", d.top - 38)
    .attr("font-size", 15).attr("letter-spacing", 0.9).text("FGF-23");
  g.append("text").attr("class", "unit").attr("x", d.labelX + 1).attr("y", d.top - 22).text("(pg/mL)");
  g.append("text").attr("class", "serif").attr("x", d.right - 10).attr("y", d.top - 10.5)
    .attr("font-size", 25).attr("text-anchor", "end").text(d.letter);
  g.append("text").attr("class", "stat").attr("x", d.right - 10).attr("y", d.top + 18.5).text(d.rho);
  g.append("text").attr("class", "stat").attr("x", d.right - 10).attr("y", d.top + 34.5).text(d.p);

  g.append("text").attr("class", "serif").attr("x", d.midX).attr("y", bottom + 43.5)
    .attr("font-size", 16).attr("letter-spacing", 0.8).attr("text-anchor", "middle").text(isEgfr ? "eGFR" : "P");
  g.append("text").attr("class", "unit").attr("x", d.midX).attr("y", bottom + 60)
    .attr("text-anchor", "middle").text(isEgfr ? "(mL/min/1.73 m2)" : "(mg/dL)");
});
</script>
</body>
</html>
